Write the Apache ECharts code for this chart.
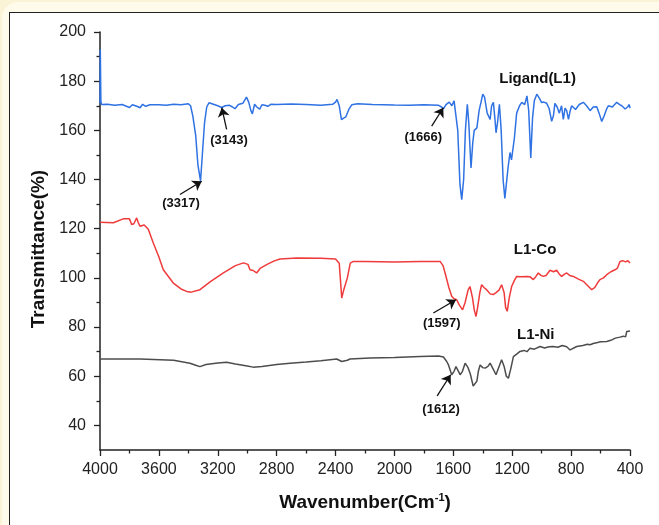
<!DOCTYPE html>
<html>
<head>
<meta charset="utf-8">
<script src="https://cdn.jsdelivr.net/npm/echarts@6/dist/echarts.min.js"></script>
<style>
html, body { margin: 0; padding: 0; background: #fbf3d6; overflow: hidden; }
#bg { position: absolute; left: 2px; top: 2px; width: 720px; height: 600px; background: #fffbea; border-radius: 16px; }
#panel { position: absolute; left: 9px; top: 12px; width: 720px; height: 600px; background: #fff; border: 1.5px solid #222; }
#main { position: absolute; left: 0; top: 0; width: 659px; height: 525px; }
</style>
</head>
<body>
<div id="bg"></div>
<div id="panel"></div>
<div id="main"></div>
<script>
// wavenumbers (cm-1) and transmittance values
var ligandX = [4000, 3998, 3994, 3990, 3950, 3900, 3850, 3800, 3780, 3750, 3728, 3710, 3690, 3660, 3600, 3550, 3500, 3450, 3400, 3385,
    3370, 3350, 3335, 3317, 3305, 3290, 3275, 3260, 3230, 3200, 3173, 3150, 3120, 3100, 3083, 3060, 3030, 3005, 2990, 2975,
    2965, 2950, 2935, 2915, 2900, 2880, 2860, 2840, 2800, 2700, 2600, 2500, 2420, 2400, 2390, 2375, 2360, 2345, 2330, 2310,
    2290, 2250, 2150, 2000, 1900, 1800, 1700, 1680, 1666, 1650, 1628, 1610, 1595, 1585, 1570, 1555, 1543, 1530, 1518, 1505,
    1495, 1480, 1468, 1458, 1440, 1425, 1410, 1400, 1388, 1370, 1350, 1340, 1328, 1318, 1310, 1300, 1287, 1275, 1262, 1250,
    1240, 1228, 1215, 1205, 1197, 1185, 1170, 1150, 1135, 1115, 1100, 1088, 1074, 1062, 1050, 1033, 1015, 1000, 985, 966,
    950, 932, 920, 910, 895, 880, 865, 853, 841, 830, 818, 806, 796, 770, 745, 717, 695, 671, 650, 626,
    610, 592, 575, 560, 547, 520, 490, 470, 456, 445, 433, 415, 405, 400];
var ligandY = [171, 193, 172, 170.5, 170.6, 170.2, 170.5, 169.3, 170.4, 169.8, 169.2, 170.6, 169.8, 170.4, 170.4, 170.2, 170.6, 170.4, 170.8, 170,
    166, 158, 146, 139.5, 150, 163, 169.5, 171.2, 170.6, 170, 169.3, 170, 170.2, 169.5, 168.8, 170.5, 171, 173.5, 171.5, 168,
    166.7, 170.6, 169.5, 168.6, 170.4, 170.2, 169.8, 170.6, 170.5, 170.7, 170.5, 170.2, 170.6, 171.5, 172.6, 170, 164.4, 165, 165.5, 168.5,
    170.4, 170.8, 170.5, 170.3, 170.2, 170.4, 170.2, 169.5, 168.8, 170.5, 171.5, 170, 172, 171.5, 160, 138, 131.8, 140, 160, 170.6,
    163, 144.7, 155, 160, 161, 168, 172, 174.7, 173.5, 167, 164.4, 170, 171.4, 165, 159, 163, 170.6, 160, 140, 132.3,
    133, 145, 151, 148, 148, 157, 167, 170, 171.4, 170.5, 174, 168, 148.8, 165, 172, 174.7, 173, 171.3, 171.5, 171,
    169, 163.7, 166, 171, 169.5, 167, 170, 164.5, 169, 168, 164.5, 168, 170, 168.5, 170.5, 171.4, 170, 168, 169.5, 169.6,
    167, 163.6, 166, 168.5, 170, 169.5, 171.4, 170.5, 170, 170.5, 168.7, 169.6, 170.5, 169];

var cobaltX = [4000, 3909, 3842, 3800, 3785, 3770, 3751, 3740, 3728, 3700, 3672, 3638, 3600, 3570, 3502, 3450, 3411, 3380, 3321, 3250,
    3162, 3080, 3026, 2995, 2981, 2960, 2936, 2910, 2868, 2820, 2777, 2664, 2500, 2400, 2375, 2358, 2345, 2336, 2320, 2300,
    2279, 2200, 2000, 1826, 1690, 1670, 1656, 1630, 1611, 1595, 1577, 1560, 1537, 1520, 1500, 1487, 1470, 1458, 1446, 1435,
    1420, 1408, 1390, 1374, 1350, 1329, 1310, 1290, 1272, 1255, 1245, 1234, 1220, 1204, 1185, 1170, 1140, 1102, 1080, 1057,
    1040, 1023, 1005, 989, 970, 943, 920, 898, 880, 864, 845, 830, 810, 785, 750, 717, 690, 660, 640, 620,
    604, 580, 558, 530, 502, 485, 468, 450, 430, 415, 400];
var cobaltY = [122.6, 122.4, 124, 124, 121.7, 122, 124.4, 122.5, 121, 121.5, 119.8, 114.2, 108.5, 103.3, 97.9, 95.5, 94.5, 94.2, 95.2, 98.5,
    102, 105, 106.1, 105.5, 103.3, 103, 102, 104, 105.4, 106.8, 107.7, 108.1, 108, 107.7, 106, 91.8, 95, 95.2, 100, 106,
    106.7, 106.7, 106.5, 106.7, 106.7, 105, 102, 96, 92.5, 91.5, 91.1, 89, 87, 90, 95, 96.5, 92, 87, 84.3, 88,
    94, 97.2, 96, 95.2, 93.5, 93.2, 94, 95, 97.2, 94, 88, 86.4, 92, 96.5, 99, 100.6, 100.5, 100.6, 100.5, 99.3,
    100.5, 102, 101, 100.6, 101, 103.1, 102.5, 103.1, 101.5, 100.6, 101.5, 102, 101, 100.6, 99.5, 98.6, 97, 95.2, 96, 98,
    99.3, 100, 101.3, 102.5, 103.3, 104, 106.7, 107, 106.5, 107, 106.1];

var nickelX = [4000, 3728, 3500, 3389, 3350, 3321, 3280, 3200, 3140, 3080, 3000, 2959, 2900, 2800, 2709, 2600, 2500, 2392, 2358, 2320,
    2302, 2166, 2000, 1826, 1700, 1667, 1645, 1633, 1611, 1595, 1582, 1565, 1554, 1538, 1520, 1500, 1485, 1465, 1452, 1440,
    1430, 1418, 1400, 1384, 1365, 1350, 1330, 1310, 1295, 1272, 1255, 1240, 1226, 1210, 1192, 1170, 1147, 1120, 1100, 1079,
    1050, 1011, 980, 950, 921, 890, 860, 830, 807, 795, 762, 720, 690, 671, 650, 620, 600, 558, 530, 500,
    468, 445, 430, 422, 410, 400];
var nickelY = [67, 67, 66.5, 65.3, 64.5, 63.9, 64.8, 65.4, 65.7, 65, 64.2, 63.7, 64, 64.8, 65.3, 65.8, 66.3, 67, 66, 66.5,
    67, 67.4, 67.6, 68, 68.2, 67.8, 66, 64.6, 60.6, 62, 63.9, 62, 60.6, 62, 65.3, 63.5, 61, 56, 55.7, 58,
    62, 64.6, 63.5, 63.3, 64, 65.3, 63, 60.6, 63, 66.7, 64, 60, 59.2, 63, 68, 69, 70.1, 70.5, 70, 71.4,
    71, 72.1, 71.5, 72, 72.1, 71.8, 72.5, 72, 70.7, 71.5, 72.1, 72.5, 73, 72.8, 73.3, 73.7, 74, 74.1, 74.6, 75.5,
    75.9, 76.3, 76, 78.2, 78, 78.4];

// y axis: labelled ticks and the minor ticks between them
var yTicks = [40, 60, 80, 100, 120, 140, 160, 180, 200];
var yMinorTicks = [50, 70, 90, 110, 130, 150, 170, 190];

var seriesNames = ['Ligand(L1)', 'L1-Co', 'L1-Ni'];
var seriesColors = ['#2f72e3', '#ef3b3b', '#4d4d4d'];
var nameAt = [[1028, 180.8], [1045, 111.5], [1040, 76.9]];

// peak annotations: label, arrow tail, arrow tip, label centre, curve index
var peakNames = ['(3317)', '(3143)', '(1666)', '(1597)', '(1612)'];
var peakTails = [[3457, 133.9], [3140, 160.4], [1747, 161.7], [1736, 85.7], [1710, 52]];
var peakTips = [[3309, 139.3], [3173, 169.2], [1668, 169.2], [1582, 91.1], [1618, 60.6]];
var peakTextAt = [[3450, 130.2], [3124, 155.9], [1804, 157], [1679, 81.6], [1683, 46.7]];
var peakCurve = [0, 0, 0, 1, 2];

var font = "'Liberation Sans', Arial, sans-serif";

function pairs(xs, ys) {
    return xs.map(function (x, i) { return [x, ys[i]]; });
}

var curves = [pairs(ligandX, ligandY), pairs(cobaltX, cobaltY), pairs(nickelX, nickelY)];

var chartDom = document.getElementById('main');
var myChart = echarts.init(chartDom, null, { renderer: 'canvas' });

var series = curves.map(function (data, k) {
    var arrows = [];
    var texts = [{
        name: seriesNames[k],
        coord: nameAt[k],
        label: { fontSize: 15 }
    }];
    peakNames.forEach(function (p, i) {
        if (peakCurve[i] !== k) return;
        arrows.push([{ coord: peakTails[i] }, { coord: peakTips[i] }]);
        texts.push({ name: p, coord: peakTextAt[i] });
    });
    return {
        name: seriesNames[k],
        type: 'line',
        data: data,
        showSymbol: false,
        smooth: false,
        lineStyle: { color: seriesColors[k], width: 1.5 },
        itemStyle: { color: seriesColors[k] },
        silent: true,
        markLine: {
            silent: true,
            animation: false,
            symbol: ['none', 'arrow'],
            symbolSize: 9,
            lineStyle: { color: '#111', width: 1.3, type: 'solid' },
            label: { show: false },
            emphasis: { disabled: true },
            data: arrows
        },
        markPoint: {
            silent: true,
            animation: false,
            symbol: 'rect',
            symbolSize: 1,
            itemStyle: { color: 'rgba(0,0,0,0)' },
            label: {
                show: true,
                position: 'inside',
                formatter: '{b}',
                color: '#111',
                fontWeight: 'bold',
                fontSize: 13,
                fontFamily: font
            },
            data: texts
        }
    };
});

var lineCol = '#222';

var option = {
    animation: false,
    grid: { left: 100, top: 32, right: 29, bottom: 75, containLabel: false },
    xAxis: {
        type: 'value',
        min: 400,
        max: 4000,
        interval: 400,
        inverse: true,
        axisLine: { show: true, lineStyle: { color: lineCol, width: 1.5 } },
        axisTick: { show: true, length: 6, lineStyle: { color: lineCol, width: 1.3 } },
        minorTick: { show: true, splitNumber: 2, length: 3.5, lineStyle: { color: lineCol, width: 1.3 } },
        splitLine: { show: false },
        axisLabel: {
            color: lineCol, fontSize: 16, fontFamily: font, margin: 12,
            formatter: function (v) { return String(v); }
        },
        name: '{a|Wavenumber(Cm}{s|-1}{a|)}',
        nameLocation: 'middle',
        nameGap: 42,
        nameTextStyle: {
            rich: {
                a: { fontSize: 19, fontWeight: 'bold', fontFamily: font, color: '#111' },
                s: { fontSize: 11, fontWeight: 'bold', fontFamily: font, color: '#111', verticalAlign: 'top', padding: [0, 0, 10, 0] }
            }
        }
    },
    yAxis: [{
        type: 'value',
        min: 30,
        max: 200,
        axisLine: { show: true, lineStyle: { color: lineCol, width: 1.5 } },
        axisTick: { show: true, length: 6, customValues: yTicks, lineStyle: { color: lineCol, width: 1.3 } },
        splitLine: { show: false },
        axisLabel: { color: lineCol, fontSize: 16, fontFamily: font, margin: 14, customValues: yTicks },
        name: 'Transmittance(%)',
        nameLocation: 'middle',
        nameGap: 52,
        nameTextStyle: { fontSize: 19, fontWeight: 'bold', fontFamily: font, color: '#111', padding: [0, 16, 0, 0] }
    }, {
        type: 'value',
        min: 30,
        max: 200,
        position: 'left',
        offset: 0,
        axisLine: { show: false },
        axisTick: { show: true, length: 3.5, customValues: yMinorTicks, lineStyle: { color: lineCol, width: 1.3 } },
        axisLabel: { show: false },
        splitLine: { show: false }
    }],
    series: series
};

option && myChart.setOption(option);
</script>
</body>
</html>
